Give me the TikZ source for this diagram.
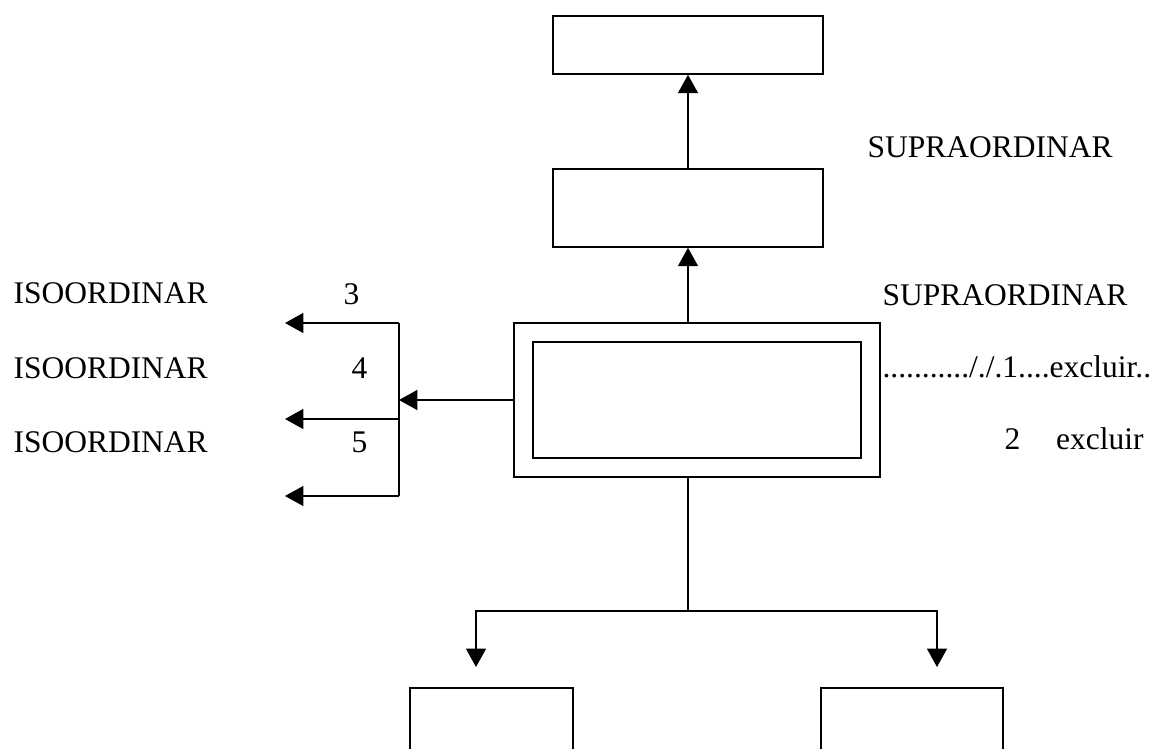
\documentclass[tikz,border=0pt]{standalone}
\usepackage{fontspec}
\setmainfont{Liberation Serif}
\usepackage{tikz}
\usetikzlibrary{calc,arrows.meta}
\newcommand{\pxu}{0.381pt}

\begin{document}
\begin{tikzpicture}[x=0.381pt, y=-0.381pt]
\tikzstyle{every node} = [inner sep=0, font=\fontsize{12pt}{14pt}\selectfont]
\tikzstyle{box} = [draw, line width=0.6pt, rectangle]
\tikzstyle{txt} = [anchor=base west]
\tikzstyle{edge} = [draw, line width=0.6pt]
\tikzstyle{arr} = [draw, line width=0.6pt, -{Triangle[width=7.6pt, length=7pt]}]
\clip (0,0) rectangle (1156,749);
\node[box, minimum width=270*\pxu, minimum height=58*\pxu] (top) at (688,45) {};
\node[box, minimum width=270*\pxu, minimum height=78*\pxu] (mid) at (688,208) {};
\node[box, minimum width=366*\pxu, minimum height=154*\pxu] (outer) at (697,400) {};
\node[box, minimum width=328*\pxu, minimum height=116*\pxu] (inner) at (697,400) {};
\node[box, minimum width=163*\pxu, minimum height=120*\pxu] (low_l) at (491.5,748) {};
\node[box, minimum width=182*\pxu, minimum height=120*\pxu] (low_r) at (912,748) {};
\coordinate (fork_t) at (399,323);
\coordinate (fork_m) at (399,419);
\coordinate (fork_b) at (399,496);
\coordinate (fork_c) at (399,400);
\coordinate (iso_a) at (285,323);
\coordinate (iso_b) at (285,419);
\coordinate (iso_c) at (285,496);
\coordinate (branch) at (688,611);
\coordinate (tip_l) at (476,667);
\coordinate (tip_r) at (937,667);
\node[txt] (iso1) at (13,303) {ISOORDINAR};
\node[txt] (iso2) at (13,378) {ISOORDINAR};
\node[txt] (iso3) at (13,452) {ISOORDINAR};
\node[txt] (n3) at (343,304) {3};
\node[txt] (n4) at (351,378) {4};
\node[txt] (n5) at (351,452) {5};
\node[txt] (sup1) at (867,157) {SUPRAORDINAR};
\node[txt] (sup2) at (882,305) {SUPRAORDINAR};
\node[txt] (excl1) at (882,377) {.........../\hspace{0pt}./\hspace{0pt}.1....excluir..};
\node[txt] (excl2) at (1004,449) {2\hspace{1.14em}excluir};
\draw[arr] (outer.north -| mid.south) -- (mid.south);
\draw[arr] (mid.north) -- (top.south);
\draw[arr] (outer.west) -- (fork_c);
\draw[edge] (fork_t) -- (fork_b);
\draw[arr] (fork_t) -- (iso_a);
\draw[arr] (fork_m) -- (iso_b);
\draw[arr] (fork_b) -- (iso_c);
\draw[edge] (outer.south -| mid.south) -- (branch);
\draw[arr] (branch) -| (tip_l);
\draw[arr] (branch) -| (tip_r);
\end{tikzpicture}
\end{document}
